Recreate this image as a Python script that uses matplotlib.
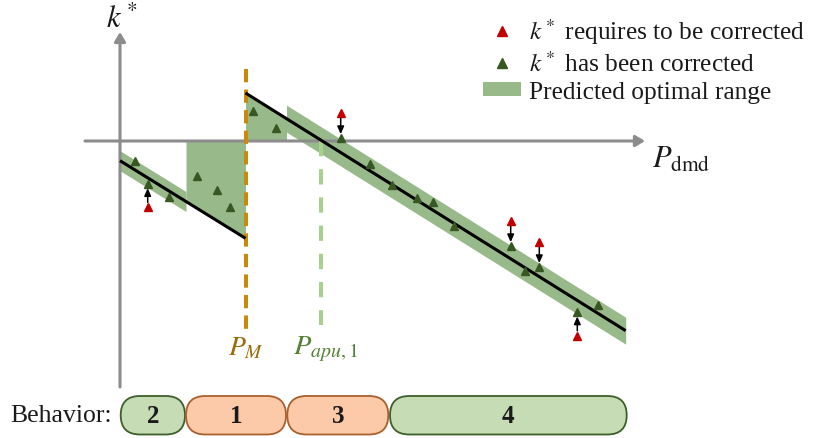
import numpy as np
import matplotlib
matplotlib.use("Agg")
import matplotlib.pyplot as plt
from matplotlib.patches import FancyBboxPatch, Patch
from matplotlib.lines import Line2D

plt.rcParams['font.family'] = ['Liberation Serif', 'DejaVu Serif']
plt.rcParams['mathtext.fontset'] = 'stix'

# ---------------- data (schematic units: P_dmd on x, k* on y) ----------------
P_line1 = [0.0, 12.55]
k_line1 = [-1.97, -9.73]
P_line2 = [12.55, 50.57]
k_line2 = [4.80, -18.97]

band1_P = [0.0, 6.6]          # predicted band around line 1
band1_half = 1.0
block1_P = [6.6, 12.55]       # range between 0 and line 1
block2_P = [12.55, 16.65]     # range between 0 and line 2
band2_P = [16.65, 50.57]      # predicted band around line 2
band2_half = 1.35

P_M = 12.55
P_apu1 = 20.05
PM_k_range = [7.2, -19.0]
Papu_k_range = [0.0, -18.4]

green_P = [1.5, 2.77, 4.9, 7.67, 9.73, 11.03, 13.27, 15.57, 22.07, 25.0,
           27.23, 29.67, 31.33, 33.43, 39.07, 40.5, 41.93, 45.73, 47.83]
green_k = [-1.97, -4.3, -5.57, -3.47, -4.9, -6.57, 2.97, 1.27, 0.27, -2.3,
           -4.4, -5.73, -6.07, -8.53, -10.53, -12.97, -12.63, -17.13, -16.4]

red_P = [2.77, 22.07, 39.07, 41.93, 45.73]
red_k = [-6.63, 2.80, -8.03, -10.13, -19.47]
red_target_k = [-4.3, 0.27, -10.53, -12.63, -17.13]

behavior_labels = ['2', '1', '3', '4']
behavior_start = [0.07, 6.6, 16.73, 27.0]
behavior_end = [6.5, 16.6, 26.83, 50.67]
behavior_kind = ['green', 'orange', 'orange', 'green']

# ---------------- styles ----------------
BAND = '#98BA8A'
DARKG = '#385723'
RED = '#C00000'
AXC = '#8C8C8C'
PM_C = '#C98A0B'
PM_T = '#9C6B0A'
APU_C = '#A9D18E'
APU_T = '#548235'
pill_fc = {'green': '#C5DCB4', 'orange': '#FCCAA8'}
pill_ec = {'green': '#3E5F2C', 'orange': '#A9602E'}

fig = plt.figure(figsize=(8.16, 4.39), dpi=100)
ax = fig.add_axes([0, 0, 1, 1])
ax.set_xlim(-12, 69.6)
ax.set_ylim(-29.7, 14.2)
ax.axis('off')

def line_k(P, Ps, ks):
    return np.interp(P, Ps, ks)

# bands / ranges
P = np.array(band1_P)
c = line_k(P, P_line1, k_line1)
ax.fill_between(P, c - band1_half, c + band1_half, color=BAND, lw=0, zorder=1)
P = np.array(block1_P)
ax.fill_between(P, 0, line_k(P, P_line1, k_line1), color=BAND, lw=0, zorder=1)
P = np.array(block2_P)
ax.fill_between(P, 0, line_k(P, P_line2, k_line2), color=BAND, lw=0, zorder=1)
P = np.array(band2_P)
c = line_k(P, P_line2, k_line2)
ax.fill_between(P, c - band2_half, c + band2_half, color=BAND, lw=0, zorder=1)

# axes with arrows
ax.annotate('', xy=(52.5, 0), xytext=(-3.5, 0),
            arrowprops=dict(arrowstyle='-|>,head_length=0.5,head_width=0.3',
                            mutation_scale=11, lw=2.2, color=AXC,
                            shrinkA=0, shrinkB=0), zorder=2)
ax.annotate('', xy=(0, 10.9), xytext=(0, -24.6),
            arrowprops=dict(arrowstyle='-|>,head_length=0.5,head_width=0.3',
                            mutation_scale=11, lw=2.2, color=AXC,
                            shrinkA=0, shrinkB=0), zorder=2)

# dashed vertical markers
ax.plot([P_M, P_M], PM_k_range, color=PM_C, lw=2.9,
        linestyle=(0, (3.3, 1.8)), dash_capstyle='butt', zorder=3)
ax.plot([P_apu1, P_apu1], Papu_k_range, color=APU_C, lw=2.9,
        linestyle=(0, (3.8, 3.2)), dash_capstyle='butt', zorder=3)

# optimal lines
ax.plot(P_line1, k_line1, color='black', lw=2.2, solid_capstyle='butt', zorder=4)
ax.plot(P_line2, k_line2, color='black', lw=2.2, solid_capstyle='butt', zorder=4)

# arrows red -> green
for p, k0, k1 in zip(red_P, red_k, red_target_k):
    ax.annotate('', xy=(p, k1), xytext=(p, k0),
                arrowprops=dict(arrowstyle='-|>,head_length=0.45,head_width=0.2',
                                mutation_scale=10, lw=1.1, color='black',
                                shrinkA=3.5, shrinkB=3.0), zorder=5)

ax.plot(green_P, green_k, linestyle='none', marker='^', ms=6, color=DARKG, mec=DARKG, zorder=6)
ax.plot(red_P, red_k, linestyle='none', marker='^', ms=6, color=RED, mec=RED, zorder=6)

# axis labels
ax.text(0.2, 12.2, r'$k^*$', fontsize=22, ha='center', va='center', color='#1a1a1a')
ax.text(53.2, -1.8, r'$P_{\mathrm{dmd}}$', fontsize=22, ha='left', va='center', color='#1a1a1a')
ax.text(P_M, -20.7, r'$P_M$', fontsize=20, ha='center', va='center', color=PM_T)
ax.text(P_apu1 - 2.8, -20.7, r'$P_{apu,1}$', fontsize=20.5, ha='left', va='center', color=APU_T)

# behavior pills
ax.text(-11.0, -27.35, 'Behavior:', fontsize=18.5, ha='left', va='center', color='#1a1a1a')
pill_bottom, pill_top = -29.35, -25.5
for lab, s, e, kind in zip(behavior_labels, behavior_start, behavior_end, behavior_kind):
    r = (pill_top - pill_bottom) / 2
    patch = FancyBboxPatch((s, pill_bottom), e - s, pill_top - pill_bottom,
                           boxstyle=f'round,pad=0,rounding_size={r}',
                           fc=pill_fc[kind], ec=pill_ec[kind], lw=1.3, zorder=3)
    ax.add_patch(patch)
    ax.text((s + e) / 2, (pill_top + pill_bottom) / 2 - 0.05, lab, fontsize=18,
            fontweight='bold', ha='center', va='center', color='#1a1a1a', zorder=4)

# legend
handles = [
    Line2D([], [], linestyle='none', marker='^', ms=6.5, color=RED),
    Line2D([], [], linestyle='none', marker='^', ms=6.5, color=DARKG),
    Patch(facecolor=BAND, edgecolor='none'),
]
labels = [r'$k^*$ requires to be corrected', r'$k^*$ has been corrected',
          'Predicted optimal range']
leg = ax.legend(handles, labels, loc='upper left', bbox_to_anchor=(483 / 816, 1 - 17 / 439),
                frameon=False, fontsize=18.3, handlelength=1.5, handleheight=0.45,
                handletextpad=0.3, labelspacing=0.2, borderpad=0, borderaxespad=0)
for t in leg.get_texts():
    t.set_color('#1a1a1a')

fig.savefig('out.png', dpi=100)
